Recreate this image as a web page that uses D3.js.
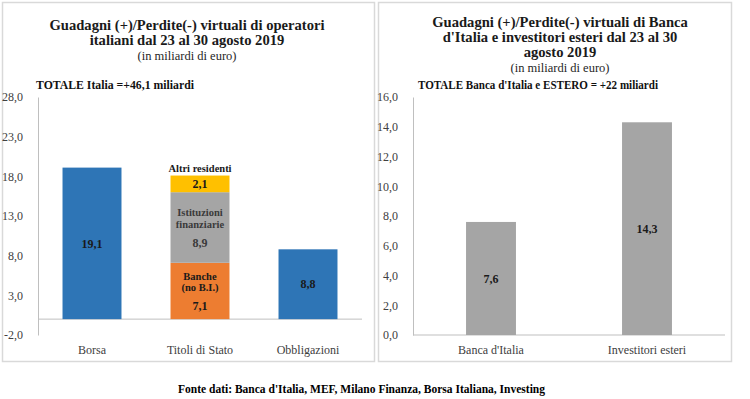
<!DOCTYPE html>
<html><head><meta charset="utf-8">
<script src="https://cdn.jsdelivr.net/npm/d3@7"></script>
<style>body{margin:0;background:#fff}svg{display:block}text{font-family:"Liberation Serif","DejaVu Serif",serif}</style>
</head><body><svg id="c" width="750" height="399"></svg>
<script>
const leftCategories = ["Borsa", "Titoli di Stato", "Obbligazioni"];
const leftSingleValues = [19.1, null, 8.8];
const stackNames = [["Banche", "(no B.I.)"], ["Istituzioni", "finanziarie"], ["Altri residenti"]];
const stackValues = [7.1, 8.9, 2.1];
const leftTicks = [-2, 3, 8, 13, 18, 23, 28];
const rightCategories = ["Banca d'Italia", "Investitori esteri"];
const rightValues = [7.6, 14.3];
const rightTicks = [0, 2, 4, 6, 8, 10, 12, 14, 16];
const leftTitle = ["Guadagni (+)/Perdite(-) virtuali di operatori", "italiani dal 23 al 30 agosto 2019"];
const rightTitle = ["Guadagni (+)/Perdite(-) virtuali di Banca", "d'Italia e investitori esteri dal 23 al 30", "agosto 2019"];
const subtitle = "(in miliardi di euro)";
const leftTotal = "TOTALE Italia =+46,1 miliardi";
const rightTotal = "TOTALE Banca d'Italia e ESTERO = +22 miliardi";
const footer = "Fonte dati: Banca d'Italia, MEF, Milano Finanza, Borsa Italiana, Investing";

const svg = d3.select("#c");
const fmt = v => d3.format(".1f")(v).replace(".", ",").replace("−", "-");
const BLUE = "#2E75B6", ORANGE = "#ED7D31", GRAY = "#A5A5A5", GOLD = "#FFC000";
const stackColors = [ORANGE, GRAY, GOLD];

// panel frames
svg.append("rect").attr("x", 2.5).attr("y", 2.5).attr("width", 372).attr("height", 359)
  .attr("fill", "none").attr("stroke", "#d9d9d9").attr("stroke-width", 1.5);
svg.append("rect").attr("x", 378.5).attr("y", 2.5).attr("width", 353).attr("height", 359)
  .attr("fill", "none").attr("stroke", "#d9d9d9").attr("stroke-width", 1.5);

function titleBlock(lines, cx, y0, subY, totalX, totalText, totalLen) {
  lines.forEach((t, i) => svg.append("text").attr("x", cx).attr("y", y0 + i * 15.3).attr("dy", "0.35em")
    .attr("text-anchor", "middle").attr("font-size", 14.6).attr("font-weight", "bold").attr("fill", "#1a1a1a").text(t));
  svg.append("text").attr("x", cx).attr("y", subY).attr("dy", "0.35em").attr("text-anchor", "middle")
    .attr("font-size", 12.5).attr("fill", "#262626").text(subtitle);
  svg.append("text").attr("x", totalX).attr("y", 85).attr("dy", "0.35em")
    .attr("font-size", 11.5).attr("font-weight", "bold").attr("fill", "#111")
    .attr("textLength", totalLen).attr("lengthAdjust", "spacingAndGlyphs").text(totalText);
}
titleBlock(leftTitle, 187, 24.5, 56, 36, leftTotal, 158);
titleBlock(rightTitle, 560, 21.5, 67.5, 418, rightTotal, 240);

function yAxis(y, ticks, x0, x1) {
  const g = svg.append("g").attr("transform", `translate(${x0},0)`)
    .call(d3.axisLeft(y).tickValues(ticks).tickSize(0).tickPadding(15).tickFormat(fmt));
  g.select(".domain").attr("stroke", "#bfbfbf");
  g.selectAll("text").attr("font-family", "Liberation Serif").attr("font-size", 12).attr("fill", "#404040");
  svg.append("line").attr("x1", x0).attr("x2", x1).attr("y1", y(0)).attr("y2", y(0)).attr("stroke", "#bfbfbf");
}
function catLabels(x, cats) {
  svg.append("g").selectAll("text").data(cats).join("text")
    .attr("x", d => x(d) + x.bandwidth() / 2).attr("y", 350).attr("dy", "0.35em")
    .attr("text-anchor", "middle").attr("font-size", 12).attr("fill", "#404040").text(d => d);
}
function valueLabel(x, y, v, color) {
  svg.append("text").attr("x", x).attr("y", y).attr("dy", "0.35em").attr("text-anchor", "middle")
    .attr("font-size", 12).attr("font-weight", "bold").attr("fill", color || "#1a1a1a").text(fmt(v));
}

// LEFT chart
const yL = d3.scaleLinear().domain([-2, 28]).range([335, 97]);
const xL = d3.scaleBand().domain(leftCategories).range([38, 362]).paddingInner(0.454).paddingOuter(0.227);
yAxis(yL, leftTicks, 38, 362);
leftCategories.forEach((c, i) => {
  const v = leftSingleValues[i];
  if (v == null) return;
  svg.append("rect").attr("x", xL(c)).attr("width", xL.bandwidth())
    .attr("y", yL(v)).attr("height", yL(0) - yL(v)).attr("fill", BLUE);
  valueLabel(xL(c) + xL.bandwidth() / 2, (yL(v) + yL(0)) / 2, v);
});
const stackCat = leftCategories[1];
const cx = xL(stackCat) + xL.bandwidth() / 2;
let base = 0;
stackValues.forEach((v, i) => {
  const top = base + v;
  svg.append("rect").attr("x", xL(stackCat)).attr("width", xL.bandwidth())
    .attr("y", yL(top)).attr("height", yL(base) - yL(top)).attr("fill", stackColors[i]);
  const mid = (yL(base) + yL(top)) / 2;
  const names = stackNames[i];
  const labColor = i === 1 ? "#3a3a3a" : "#1a1a1a";
  if (names.length > 1) {
    names.forEach((n, j) => svg.append("text").attr("x", cx).attr("y", mid - 15 + j * 11.5).attr("dy", "0.35em")
      .attr("text-anchor", "middle").attr("font-size", 10.5).attr("font-weight", "bold").attr("fill", labColor).text(n));
    valueLabel(cx, mid + 15, v, labColor);
  } else {
    valueLabel(cx, mid, v);
    svg.append("text").attr("x", cx).attr("y", yL(top) - 7).attr("dy", "0.35em")
      .attr("text-anchor", "middle").attr("font-size", 10.5).attr("font-weight", "bold").attr("fill", "#1a1a1a").text(names[0]);
  }
  base = top;
});
catLabels(xL, leftCategories);

// RIGHT chart
const yR = d3.scaleLinear().domain([0, 16]).range([335, 97]);
const xR = d3.scaleBand().domain(rightCategories).range([413, 725]).paddingInner(0.68).paddingOuter(0.34);
yAxis(yR, rightTicks, 413, 725);
rightCategories.forEach((c, i) => {
  const v = rightValues[i];
  svg.append("rect").attr("x", xR(c)).attr("width", xR.bandwidth())
    .attr("y", yR(v)).attr("height", yR(0) - yR(v)).attr("fill", GRAY);
  valueLabel(xR(c) + xR.bandwidth() / 2, (yR(v) + yR(0)) / 2, v);
});
catLabels(xR, rightCategories);

// footer
svg.append("text").attr("x", 361.5).attr("y", 389).attr("dy", "0.35em").attr("text-anchor", "middle")
  .attr("font-size", 12.5).attr("font-weight", "bold").attr("fill", "#000")
  .attr("textLength", 367).attr("lengthAdjust", "spacingAndGlyphs").text(footer);
</script></body></html>
